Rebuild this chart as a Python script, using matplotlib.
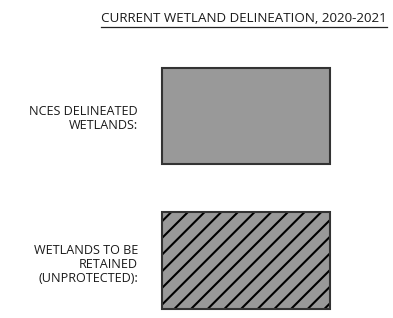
import matplotlib
matplotlib.use("Agg")
import matplotlib.pyplot as plt
from matplotlib.patches import Rectangle

plt.rcParams['font.family'] = ['Open Sans', 'DejaVu Sans']
plt.rcParams['hatch.linewidth'] = 1.5

title = "CURRENT WETLAND DELINEATION, 2020-2021"
categories = [["NCES DELINEATED", "WETLANDS:"],
              ["WETLANDS TO BE", "RETAINED", "(UNPROTECTED):"]]
hatches = ["", "//"]
fill_color = "#999999"

fig = plt.figure(figsize=(3.93, 3.18), dpi=100)
ax = fig.add_axes([0, 0, 1, 1])
ax.set_xlim(0, 393)
ax.set_ylim(318, 0)
ax.axis('off')

box_tops = [67.5, 212]
first_baselines = [115, 253.5]
line_step = 14.2
for lines, h, top, by in zip(categories, hatches, box_tops, first_baselines):
    # fill + black hatch
    ax.add_patch(Rectangle((162, top), 168, 96.5, facecolor=fill_color,
                           edgecolor="#000000", linewidth=0, hatch=h))
    # border
    ax.add_patch(Rectangle((162, top), 168, 96.5, fill=False,
                           edgecolor="#333333", linewidth=1.5))
    for i, ln in enumerate(lines):
        ax.text(138, by + i * line_step, ln, ha='right', va='baseline',
                fontsize=9.1, color="#1a1a1a")

t = ax.text(387, 22, title, ha='right', va='baseline', fontsize=9.6, color="#1a1a1a")
fig.canvas.draw()
r = fig.canvas.get_renderer()
bb = t.get_window_extent(r).transformed(ax.transData.inverted())
ax.plot([min(bb.x0, bb.x1), 387], [27.3, 27.3], color="#222222", linewidth=0.9)

fig.savefig("out.png", dpi=100)
